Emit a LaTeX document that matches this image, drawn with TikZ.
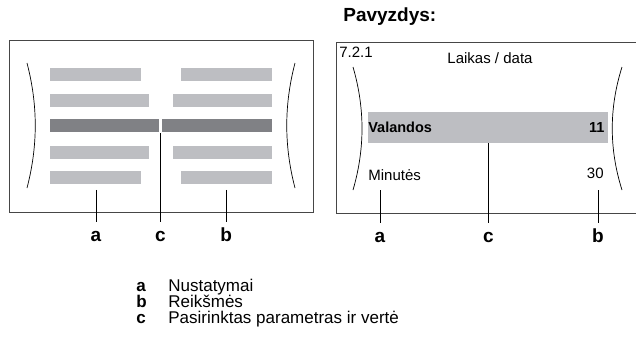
\documentclass[tikz,border=0pt]{standalone}
\usepackage{fontspec}
\setmainfont{Liberation Sans}
\usetikzlibrary{positioning}
\definecolor{lightbar}{RGB}{189,190,194}
\definecolor{darkbar}{RGB}{128,129,133}
\definecolor{framegray}{RGB}{70,70,70}

\begin{document}
\begin{tikzpicture}[x=1pt,y=-1pt,line width=0.7pt]
\tikzstyle{bar}=[fill=lightbar,draw=none,inner sep=0pt,minimum height=13pt]
\tikzstyle{selbar}=[bar,fill=darkbar]
\tikzstyle{frame}=[draw=framegray,line width=0.8pt]
\tikzstyle{lbl}=[font=\bfseries\fontsize{19}{19}\selectfont,inner sep=0pt,text height=19pt,text depth=0pt,anchor=base]
\tikzstyle{txt}=[font=\fontsize{15}{15}\selectfont,inner sep=0pt]
\tikzstyle{key}=[font=\fontsize{17}{17}\selectfont,inner sep=0pt,anchor=base west]
\useasboundingbox (0,0) rectangle (636,338);
% left: general layout
\draw[frame] (9,40) rectangle (313,212);
\draw (27,63) .. controls (38,105) and (38,146) .. (27,188);
\draw (295,63) .. controls (284,105) and (284,146) .. (295,188);
\node[bar,anchor=west,minimum width=91pt] (l1) at (50,74.5) {};
\node[bar,anchor=west,minimum width=99pt] (l2) at (50,100) {};
\node[selbar,anchor=west,minimum width=109pt] (l3) at (50,125.5) {};
\node[bar,anchor=west,minimum width=99pt] (l4) at (50,152.5) {};
\node[bar,anchor=west,minimum width=91pt] (l5) at (50,177) {};
\node[bar,anchor=east,minimum width=91pt] (r1) at (272,74.5) {};
\node[bar,anchor=east,minimum width=99pt] (r2) at (272,100) {};
\node[selbar,anchor=east,minimum width=110pt] (r3) at (272,125.5) {};
\node[bar,anchor=east,minimum width=99pt] (r4) at (272,152.5) {};
\node[bar,anchor=east,minimum width=91pt] (r5) at (272,177) {};
\coordinate (gap) at (160.5,133);
\node[lbl] (la) at (l5.south |- 0,241) {a};
\node[lbl] (lc) at (gap |- 0,241) {c};
\node[lbl] (lb) at (r5.south |- 0,241) {b};
\draw ([yshift=-6pt]l5.south) -- (la.north)
	(gap) -- (lc.north)
	([yshift=-6pt]r5.south) -- (lb.north);
% right: example
\node[font=\bfseries\fontsize{19}{19}\selectfont,anchor=west,inner sep=0pt] (title) at (343,17) {Pavyzdys:};
\draw[frame] (636,42) -- (336,42) -- (336,213) -- (636,213);
\draw (353,67) .. controls (365,108) and (365,149) .. (353,190);
\draw (622,67) .. controls (609,108) and (609,149) .. (622,190);
\node[txt,anchor=base west] (menu) at (339,57) {7.2.1};
\node[txt,anchor=base] (head) at (490,63) {Laikas / data};
\node[bar,anchor=west,minimum width=240pt,minimum height=31pt] (hl) at (368,127.5) {};
\node[txt,font=\bfseries\fontsize{14.5}{14.5}\selectfont,anchor=west] (hour) at (hl.west) {Valandos};
\node[txt,font=\bfseries\fontsize{14.5}{14.5}\selectfont,anchor=east] (hval) at ([xshift=-4pt]hl.east) {11};
\node[txt,anchor=west] (mins) at (368,175) {Minutės};
\node[txt,anchor=east] (mval) at (604,173) {30};
\coordinate (ta) at (380,190);
\coordinate (tb) at (598,190);
\node[lbl] (ea) at (ta |- 0,242) {a};
\node[lbl] (ec) at (hl.south |- 0,242) {c};
\node[lbl] (eb) at (tb |- 0,242) {b};
\draw (ta) -- (ea.north)
	(hl.south) -- (ec.north)
	(tb) -- (eb.north);
% legend
\node[key] (ka) at (136,291) {\bfseries a};
\node[key] (kb) at (136,307) {\bfseries b};
\node[key] (kc) at (136,323) {\bfseries c};
\node[key] (da) at (168,291) {Nustatymai};
\node[key] (db) at (168,307) {Reikšmės};
\node[key] (dc) at (168,323) {Pasirinktas parametras ir vertė};
\end{tikzpicture}
\end{document}
